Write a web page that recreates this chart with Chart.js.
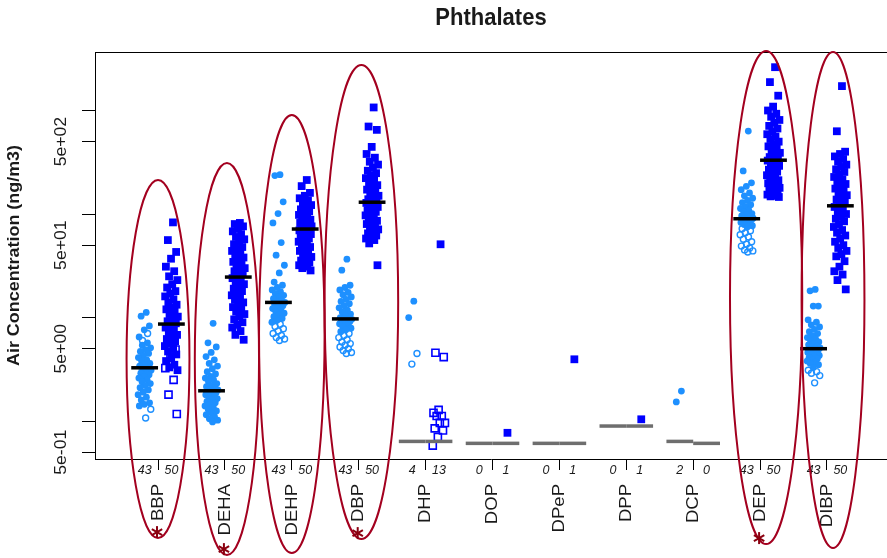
<!DOCTYPE html>
<html>
<head>
<meta charset="utf-8">
<title>Phthalates</title>
<script src="https://cdn.jsdelivr.net/npm/chart.js@4.4.0/dist/chart.umd.min.js"></script>
<style>
  html, body { margin: 0; padding: 0; background: #fff; }
  #wrap { width: 887px; height: 558px; }
</style>
</head>
<body>
<div id="wrap"><canvas id="chart" width="887" height="558"></canvas></div>
<script>
const compounds = ["BBP", "DEHA", "DEHP", "DBP", "DHP", "DOP", "DPeP", "DPP", "DCP", "DEP", "DIBP"];

const yTicks = [0.5, 1, 5, 10, 50, 100, 500, 1000];
const yTickLabels = ["5e-01", "", "5e+00", "", "5e+01", "", "5e+02", ""];

// first group (light blue circles), ng/m3 - filled = detected, open = non detect
const g1Filled = [
  [11.2, 10.3, 8.3, 7.6, 6.5, 5.7, 5.4, 5.1, 4.9, 4.7, 4.5, 4.3, 4.1, 3.9, 3.8, 3.6, 3.5, 3.4, 3.3, 3.2, 3.1, 3.0, 2.9, 2.8, 2.7, 2.6, 2.5, 2.4, 2.3, 2.2, 2.1, 2.0, 1.9, 1.8, 1.7, 1.6, 1.5, 1.45, 1.4],
  [8.8, 5.7, 5.2, 4.6, 4.2, 3.9, 3.6, 3.4, 3.2, 3.0, 2.85, 2.7, 2.6, 2.5, 2.4, 2.3, 2.2, 2.15, 2.1, 2.05, 2.0, 1.96, 1.92, 1.88, 1.84, 1.8, 1.75, 1.7, 1.65, 1.6, 1.55, 1.5, 1.45, 1.4, 1.35, 1.3, 1.25, 1.2, 1.15, 1.1, 1.05, 1.02, 0.98],
  [240, 235, 131, 101, 82, 53, 40, 32, 27, 22, 20.5, 19.5, 18.5, 17.8, 17, 16.4, 15.8, 15.2, 14.7, 14.3, 14.0, 13.7, 13.4, 13.0, 12.6, 12.2, 11.8, 11.4, 11.0, 10.6, 10.2, 9.8, 9.4, 9.0],
  [36.6, 28.7, 20.5, 19.5, 18.5, 17.5, 16.6, 15.8, 15.0, 14.3, 13.6, 13.0, 12.4, 11.8, 11.3, 10.8, 10.4, 10.0, 9.8, 9.7, 9.6, 9.5, 9.3, 9.1, 8.9, 8.7, 8.5, 8.2, 7.9, 7.6, 7.3],
  [14.4, 10.0],
  [],
  [],
  [],
  [1.95, 1.53],
  [633, 261, 200, 185, 172, 160, 150, 142, 135, 129, 123, 118, 113, 109, 105, 101, 98, 96, 94, 92, 91, 90, 89, 87, 85, 83, 81, 79, 77, 75],
  [18.7, 18.1, 12.9, 12.9, 9.5, 9.0, 8.5, 8.1, 7.7, 7.3, 7.0, 6.7, 6.4, 6.2, 6.0, 5.8, 5.6, 5.45, 5.3, 5.2, 5.1, 5.0, 4.9, 4.8, 4.7, 4.6, 4.5, 4.4, 4.3, 4.2, 4.1, 4.0, 3.9, 3.8, 3.7, 3.6, 3.5, 3.3],
];
const g1Open = [
  [7.0, 6.0, 1.3, 1.07],
  [],
  [8.6, 8.2, 7.8, 7.4, 7.0, 6.7, 6.4, 6.2, 6.0],
  [7.0, 6.7, 6.4, 6.1, 5.8, 5.6, 5.4, 5.2, 5.0, 4.8, 4.6, 4.5],
  [4.5, 3.55],
  [],
  [],
  [],
  [],
  [72, 69, 66, 63, 60, 57, 54, 51, 49, 47, 45, 44, 43],
  [3.1, 3.0, 2.9, 2.75, 2.34],
];
const g1Median = [3.27, 1.96, 14.0, 9.7, 0.636, 0.609, 0.609, 0.895, 0.636, 90, 5.0];

// second group (blue squares)
const g2Filled = [
  [83, 56, 43, 37, 31, 28, 25, 23, 21, 19.5, 18, 17, 16, 15, 14, 13.3, 12.6, 12, 11.4, 10.8, 10.2, 9.7, 9.2, 8.8, 8.4, 8.0, 7.6, 7.2, 6.8, 6.5, 6.2, 5.9, 5.6, 5.3, 5.0, 4.7, 4.4, 4.1, 3.8, 3.5, 3.3, 3.1],
  [82, 80, 76, 72, 68, 64, 60, 57, 54, 51, 48, 46, 44, 42, 40, 38, 36, 34.5, 33, 31.5, 30, 29, 28, 27, 25.5, 24, 23, 22, 21, 20, 19, 18, 17.2, 16.4, 15.6, 14.8, 14, 13.3, 12.6, 12, 11.4, 10.8, 10.2, 9.6, 9.0, 8.5, 8.0, 7.4, 6.8, 6.1],
  [213, 186, 160, 150, 142, 135, 128, 122, 116, 111, 106, 102, 98, 94, 91, 88, 85, 82, 80, 78, 76, 74, 72.5, 71.5, 70.5, 69.5, 68, 66, 64, 62, 60, 58, 56, 54, 52, 50, 48, 46, 44, 42, 40, 38.5, 37, 35.5, 34, 33, 32, 31, 30, 28.5],
  [1070, 700, 650, 445, 380, 350, 320, 300, 280, 262, 248, 235, 222, 210, 200, 190, 180, 172, 164, 157, 150, 144, 139, 135, 131, 128, 125, 121, 117, 113, 109, 105, 101, 97, 93, 89, 86, 83, 80, 77, 74, 71, 68, 65, 62, 60, 58, 56, 52, 32],
  [51],
  [0.77],
  [3.95],
  [1.04],
  [],
  [2620, 1880, 1390, 1090, 1000, 930, 870, 810, 760, 710, 670, 630, 590, 560, 530, 500, 475, 450, 430, 410, 390, 370, 355, 340, 333, 328, 318, 305, 292, 280, 268, 257, 247, 237, 228, 220, 212, 205, 198, 191, 185, 179, 173, 168, 163, 158, 154, 150, 148, 146],
  [1720, 630, 400, 380, 360, 340, 320, 300, 285, 270, 255, 240, 228, 216, 205, 195, 185, 176, 168, 160, 152, 145, 138, 131, 124, 117, 111, 105, 100, 95, 90, 85, 80, 75, 70, 66, 62, 58, 54, 50, 47, 44, 41, 39, 35, 31, 28, 26, 23, 18.7],
];
const g2Open = [
  [7.1, 5.4, 4.9, 4.1, 3.25, 2.5, 1.8, 1.17],
  [],
  [],
  [],
  [4.57, 4.15, 1.28, 1.2, 1.12, 1.12, 0.96, 0.96, 0.85, 0.81, 0.70, 0.58],
  [],
  [],
  [],
  [],
  [],
  [],
];
const g2Median = [8.65, 24.6, 71.6, 130, 0.636, 0.609, 0.609, 0.895, 0.609, 331, 120];

// median under the detection limit -> grey bar
const medianBelowDL = [false, false, false, false, true, true, true, true, true, false, false];

// hand drawn rings (category index, ng/m3)
const ringCenter = [0, 1.03, 2.0, 3.04, 9.09, 10.09];
const ringHalfWidth = [0.47, 0.48, 0.49, 0.55, 0.54, 0.47];
const ringTop = [213, 311, 905, 2754, 3758, 3673];
const ringBottom = [0.074, 0.0507, 0.053, 0.0724, 0.0648, 0.0593];
const ringStar = [true, true, false, true, true, false];

const LIGHT_OFF = -0.2, DARK_OFF = 0.2, JIT = 0.1;
const FONT = '"Liberation Sans", Arial, sans-serif';

function jitter(k) {
  return ((((k + 1) * 0.618034) % 1) - 0.5) * 2 * JIT;
}

function spread(filled, open, off) {
  const f = [], o = [];
  filled.forEach((vals, i) => {
    vals.forEach((v, k) => f.push({ x: i + off + jitter(k), y: v }));
    open[i].forEach((v, k) => o.push({ x: i + off + jitter(vals.length + k), y: v }));
  });
  return [f, o];
}

const [g1F, g1O] = spread(g1Filled, g1Open, LIGHT_OFF);
const [g2F, g2O] = spread(g2Filled, g2Open, DARK_OFF);

const medBlack = [], medGray = [];
compounds.forEach((c, i) => {
  const dst = medianBelowDL[i] ? medGray : medBlack;
  dst.push({ x: i + LIGHT_OFF, y: g1Median[i] }, { x: i + DARK_OFF, y: g2Median[i] });
});

// text drawn along the vertical, slightly stretched like the source
function vText(ctx, str, px, py, align, font, stretch) {
  ctx.save();
  ctx.translate(px, py);
  ctx.scale(1, stretch);
  ctx.rotate(-Math.PI / 2);
  ctx.font = font;
  ctx.textAlign = align;
  ctx.textBaseline = "middle";
  ctx.fillText(str, 0, 0);
  ctx.restore();
}

function drawStar(ctx, cx, cy) {
  ctx.save();
  ctx.strokeStyle = "#8b0010";
  ctx.lineWidth = 2;
  for (let a = 0; a < 6; a++) {
    const t = a * Math.PI / 3 + Math.PI / 2;
    ctx.beginPath();
    ctx.moveTo(cx, cy);
    ctx.lineTo(cx + 6 * Math.cos(t), cy + 6 * Math.sin(t));
    ctx.stroke();
  }
  ctx.restore();
}

const decor = {
  id: "decor",
  afterDraw(chart) {
    const { ctx, chartArea: a } = chart;
    const x = chart.scales.x, y = chart.scales.y;
    ctx.save();

    // top of the frame
    ctx.strokeStyle = "#000";
    ctx.lineWidth = 1;
    ctx.beginPath();
    ctx.moveTo(a.left, a.top + 0.5);
    ctx.lineTo(a.right, a.top + 0.5);
    ctx.stroke();

    ctx.fillStyle = "#1a1a1a";

    // title
    ctx.save();
    ctx.translate((a.left + a.right) / 2, 18);
    ctx.scale(1, 1.12);
    ctx.font = "bold 22px " + FONT;
    ctx.textAlign = "center";
    ctx.textBaseline = "middle";
    ctx.fillText("Phthalates", 0, 0);
    ctx.restore();

    // y tick labels and title
    yTicks.forEach((v, i) => {
      if (yTickLabels[i]) vText(ctx, yTickLabels[i], 61.5, y.getPixelForValue(v), "center", "16px " + FONT, 1.1);
    });
    vText(ctx, "Air Concentration (ng/m3)", 14.5, (a.top + a.bottom) / 2, "center", "bold 16px " + FONT, 1.12);

    // category names and sample counts
    compounds.forEach((c, i) => {
      vText(ctx, c, x.getPixelForValue(i), 484, "right", "17px " + FONT, 1.09);
      ctx.font = "italic 12.5px " + FONT;
      ctx.textAlign = "center";
      ctx.textBaseline = "middle";
      ctx.fillText(String(g1Filled[i].length + g1Open[i].length), x.getPixelForValue(i + LIGHT_OFF), 471);
      ctx.fillText(String(g2Filled[i].length + g2Open[i].length), x.getPixelForValue(i + DARK_OFF), 471);
    });

    // rings
    ctx.strokeStyle = "#a3001f";
    ctx.lineWidth = 2;
    ringCenter.forEach((c, k) => {
      const cx = x.getPixelForValue(c);
      const rx = x.getPixelForValue(c + ringHalfWidth[k]) - cx;
      const top = y.getPixelForValue(ringTop[k]);
      const bot = y.getPixelForValue(ringBottom[k]);
      ctx.beginPath();
      ctx.ellipse(cx, (top + bot) / 2, rx, (bot - top) / 2, 0, 0, 2 * Math.PI);
      ctx.stroke();
      if (ringStar[k]) drawStar(ctx, x.getPixelForValue(Math.round(c)) - 1, bot - 6);
    });

    ctx.restore();
  },
};

new Chart(document.getElementById("chart"), {
  type: "scatter",
  data: {
    datasets: [
      { data: medBlack, pointStyle: "line", pointRadius: 13.4, borderColor: "#000", borderWidth: 3.5 },
      { data: medGray, pointStyle: "line", pointRadius: 13.4, borderColor: "#6e6e6e", borderWidth: 3.5 },
      { data: g2F, pointStyle: "rect", pointRadius: 5.5, backgroundColor: "#0000ff", borderColor: "#0000ff", borderWidth: 0 },
      { data: g2O, pointStyle: "rect", pointRadius: 5, backgroundColor: "rgba(0,0,0,0)", borderColor: "#0000ff", borderWidth: 1.6 },
      { data: g1F, pointStyle: "circle", pointRadius: 3.4, backgroundColor: "#1e90ff", borderColor: "#1e90ff", borderWidth: 0 },
      { data: g1O, pointStyle: "circle", pointRadius: 3, backgroundColor: "rgba(0,0,0,0)", borderColor: "#1e90ff", borderWidth: 1.4 },
    ],
  },
  options: {
    responsive: false,
    animation: false,
    layout: { autoPadding: false, padding: { top: 52, left: 0, right: 0, bottom: 0 } },
    plugins: {
      legend: { display: false },
      tooltip: { enabled: false },
    },
    scales: {
      x: {
        type: "linear",
        min: -0.942,
        max: 10.897,
        afterBuildTicks: (s) => { s.ticks = compounds.map((_, i) => ({ value: i })); },
        afterFit: (s) => { s.height = 99; },
        ticks: { display: false },
        grid: { drawOnChartArea: false, drawTicks: true, tickLength: 11, color: "#000", tickColor: "#000" },
        border: { display: true, color: "#000", width: 1 },
      },
      y: {
        type: "logarithmic",
        min: 0.43,
        max: 3673,
        afterBuildTicks: (s) => { s.ticks = yTicks.map((v) => ({ value: v })); },
        afterFit: (s) => { s.width = 95; },
        ticks: { display: false },
        grid: { drawOnChartArea: false, drawTicks: true, tickLength: 13, color: "#000", tickColor: "#000" },
        border: { display: true, color: "#000", width: 1 },
      },
    },
  },
  plugins: [decor],
});
</script>
</body>
</html>
